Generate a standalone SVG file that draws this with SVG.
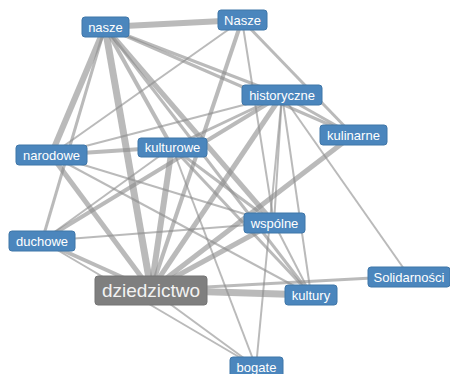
<svg xmlns="http://www.w3.org/2000/svg" width="450" height="374" viewBox="0 0 450 374">
<style>
.e{stroke:#8c8c8c;stroke-opacity:0.6;fill:none;stroke-linecap:butt}
.n rect{fill:#4b86bd;stroke:#3f76a8;stroke-width:1}
.n text{fill:#fff;font-family:"Liberation Sans",Arial,sans-serif;font-size:13px;text-anchor:middle}
.m rect{fill:#7f7f7f;stroke:#747474;stroke-width:1}
.m text{fill:#f2f2f2;font-family:"Liberation Sans",Arial,sans-serif;font-size:19px;text-anchor:middle}
</style>
<rect width="450" height="374" fill="#fff"/>
<g id="edges">
<line class="e" x1="105" y1="27" x2="242" y2="20" stroke-width="6"/>
<line class="e" x1="105" y1="27" x2="51" y2="155" stroke-width="6"/>
<line class="e" x1="105" y1="27" x2="42" y2="241" stroke-width="3"/>
<line class="e" x1="105" y1="27" x2="151" y2="290" stroke-width="7"/>
<line class="e" x1="105" y1="27" x2="172" y2="147" stroke-width="4"/>
<line class="e" x1="105" y1="27" x2="274" y2="223" stroke-width="5"/>
<line class="e" x1="105" y1="27" x2="311" y2="295" stroke-width="3"/>
<line class="e" x1="105" y1="27" x2="282" y2="95" stroke-width="3"/>
<line class="e" x1="105" y1="27" x2="353" y2="135" stroke-width="3"/>
<line class="e" x1="242" y1="20" x2="51" y2="155" stroke-width="2"/>
<line class="e" x1="242" y1="20" x2="151" y2="290" stroke-width="4"/>
<line class="e" x1="242" y1="20" x2="353" y2="135" stroke-width="3"/>
<line class="e" x1="242" y1="20" x2="274" y2="223" stroke-width="2"/>
<line class="e" x1="282" y1="95" x2="353" y2="135" stroke-width="3"/>
<line class="e" x1="282" y1="95" x2="51" y2="155" stroke-width="2"/>
<line class="e" x1="282" y1="95" x2="172" y2="147" stroke-width="3"/>
<line class="e" x1="282" y1="95" x2="42" y2="241" stroke-width="4"/>
<line class="e" x1="282" y1="95" x2="151" y2="290" stroke-width="5"/>
<line class="e" x1="282" y1="95" x2="274" y2="223" stroke-width="2"/>
<line class="e" x1="282" y1="95" x2="311" y2="295" stroke-width="2"/>
<line class="e" x1="282" y1="95" x2="256" y2="367" stroke-width="2"/>
<line class="e" x1="282" y1="95" x2="409" y2="276" stroke-width="2"/>
<line class="e" x1="353" y1="135" x2="151" y2="290" stroke-width="5"/>
<line class="e" x1="51" y1="155" x2="172" y2="147" stroke-width="4"/>
<line class="e" x1="51" y1="155" x2="151" y2="290" stroke-width="5"/>
<line class="e" x1="51" y1="155" x2="274" y2="223" stroke-width="2"/>
<line class="e" x1="51" y1="155" x2="311" y2="295" stroke-width="2"/>
<line class="e" x1="172" y1="147" x2="151" y2="290" stroke-width="6"/>
<line class="e" x1="172" y1="147" x2="42" y2="241" stroke-width="2"/>
<line class="e" x1="172" y1="147" x2="274" y2="223" stroke-width="3"/>
<line class="e" x1="172" y1="147" x2="311" y2="295" stroke-width="3"/>
<line class="e" x1="172" y1="147" x2="256" y2="367" stroke-width="2"/>
<line class="e" x1="42" y1="241" x2="151" y2="290" stroke-width="4"/>
<line class="e" x1="42" y1="241" x2="274" y2="223" stroke-width="2"/>
<line class="e" x1="42" y1="241" x2="256" y2="367" stroke-width="2"/>
<line class="e" x1="151" y1="290" x2="274" y2="223" stroke-width="5"/>
<line class="e" x1="151" y1="290" x2="311" y2="295" stroke-width="7"/>
<line class="e" x1="151" y1="290" x2="409" y2="276" stroke-width="3"/>
<line class="e" x1="151" y1="290" x2="256" y2="367" stroke-width="2"/>
<line class="e" x1="274" y1="223" x2="311" y2="295" stroke-width="2"/>
</g>
<g id="nasze" class="n"><rect x="82" y="17" width="47" height="20" rx="3"/><text x="105.5" y="32">nasze</text></g>
<g id="Nasze" class="n"><rect x="218" y="10" width="49" height="20" rx="3"/><text x="242.5" y="25">Nasze</text></g>
<g id="historyczne" class="n"><rect x="242" y="85" width="80" height="20" rx="3"/><text x="282" y="100">historyczne</text></g>
<g id="kulinarne" class="n"><rect x="320" y="125" width="67" height="20" rx="3"/><text x="353.5" y="140">kulinarne</text></g>
<g id="narodowe" class="n"><rect x="16" y="145" width="71" height="20" rx="3"/><text x="51.5" y="160">narodowe</text></g>
<g id="kulturowe" class="n"><rect x="138" y="138" width="69" height="19" rx="3"/><text x="172.5" y="152">kulturowe</text></g>
<g id="duchowe" class="n"><rect x="9" y="231" width="66" height="20" rx="3"/><text x="42" y="246">duchowe</text></g>
<g id="wspolne" class="n"><rect x="244" y="213" width="61" height="20" rx="3"/><text x="274.5" y="228">wspólne</text></g>
<g id="Solidarnosci" class="n"><rect x="368" y="267" width="82" height="20" rx="3"/><text x="409" y="282">Solidarności</text></g>
<g id="kultury" class="n"><rect x="285" y="285" width="52" height="20" rx="3"/><text x="311" y="300">kultury</text></g>
<g id="bogate" class="n"><rect x="230" y="357" width="53" height="20" rx="3"/><text x="256.5" y="372">bogate</text></g>
<g id="dziedzictwo" class="m"><rect x="95" y="276" width="112" height="29" rx="3"/><text x="151" y="297">dziedzictwo</text></g>
</svg>
